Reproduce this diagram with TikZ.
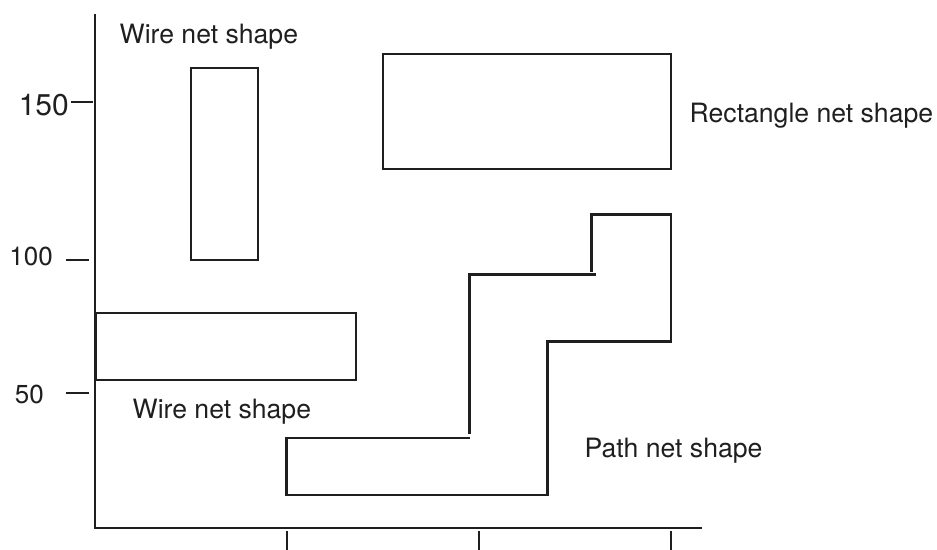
\documentclass[tikz,border=0pt]{standalone}
\usepackage{fontspec}
\setmainfont{TeX Gyre Heros}
\begin{document}
\begin{tikzpicture}[x=1pt,y=-1pt,
  ln/.style={line width=2.8pt,draw=black!88,line cap=rect},
  lbl/.style={inner sep=0pt,anchor=base west,font=\fontsize{26.6}{30}\selectfont,text=black!88},
  num/.style={inner sep=0pt,anchor=base east,text=black!88}]
\useasboundingbox (0,0) rectangle (937,549);
% axes
\draw[ln] (95,15) -- (95,527);
\draw[ln] (95,528) -- (701,528);
% bottom ticks
\draw[ln] (287,532) -- (287,549);
\draw[ln] (479,532) -- (479,549);
\draw[ln] (671,532) -- (671,549);
% left ticks
\draw[ln] (72,102) -- (92,102);
\draw[ln] (67,260) -- (88,260);
\draw[ln] (67,393) -- (88,393);
\node[num,font=\fontsize{30}{34}\selectfont] (n150) at (69,115) {150};
\node[num,font=\fontsize{26}{30}\selectfont] (n100) at (53,265) {100};
\node[num,font=\fontsize{26}{30}\selectfont] (n50) at (44,403) {50};
% wire shapes
\draw[ln] (191,68) rectangle (258,260);
\draw[ln] (96,313) rectangle (356,380);
% rectangle shape
\draw[ln] (383,54) rectangle (671,169);
% path shape
\draw[ln,line cap=butt] (470,438) -- (286.5,438) -- (286.5,495) -- (547.5,495) -- (547.5,340);
\draw[ln,line cap=butt] (546.5,341.7) -- (671,341.7) -- (671,214.3) -- (591.5,214.3) -- (591.5,212.5);
\draw[ln,line cap=butt] (591.5,214.3) -- (591.5,271.7);
\draw[ln,line cap=butt] (595.5,274.5) -- (469.3,274.5) -- (469.3,434);
% labels
\node[lbl] (w1) at (119.5,43) {Wire net shape};
\node[lbl] (w2) at (132.5,418) {Wire net shape};
\node[lbl] (r) at (689.5,122) {Rectangle net shape};
\node[lbl] (p) at (584.5,457.5) {Path net shape};
\end{tikzpicture}
\end{document}
